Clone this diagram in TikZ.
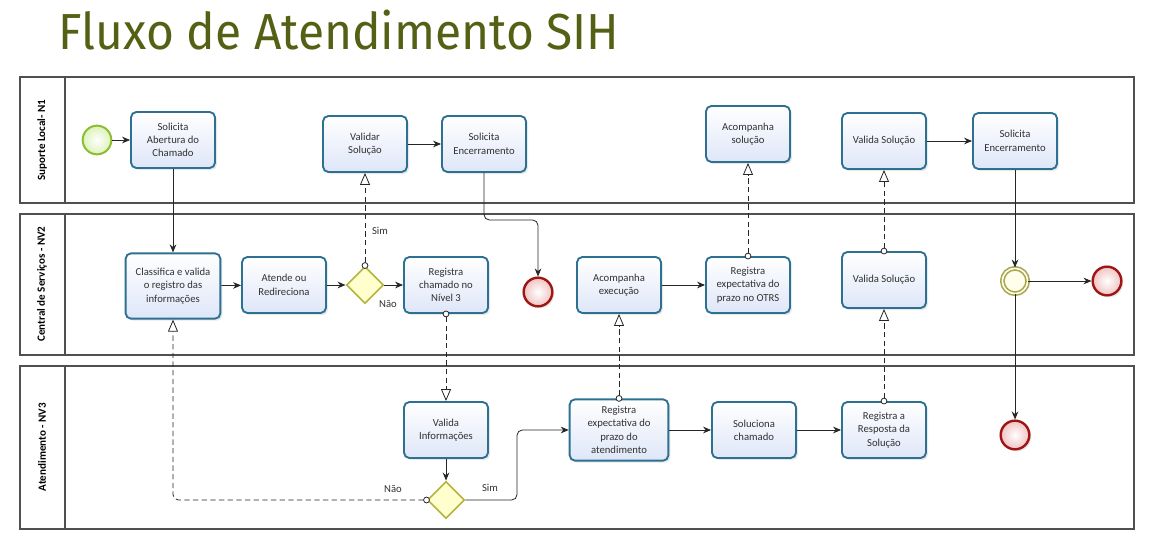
\documentclass[tikz,border=0pt]{standalone}
\usepackage{fontspec}
\setmainfont{Carlito}
\newfontfamily\titlefont{Fira Sans}
\usetikzlibrary{arrows.meta,shapes.geometric,shadows}
\definecolor{taskborder}{RGB}{45,112,145}
\definecolor{taskfill}{RGB}{222,230,248}
\definecolor{startborder}{RGB}{140,190,50}
\definecolor{startfill}{RGB}{220,242,185}
\definecolor{endborder}{RGB}{160,20,20}
\definecolor{endfill}{RGB}{240,195,195}
\definecolor{gwborder}{RGB}{180,180,60}
\definecolor{gwfill}{RGB}{255,255,205}
\definecolor{ieborder}{RGB}{170,165,80}
\definecolor{iefill}{RGB}{255,255,235}
\definecolor{titlecol}{RGB}{84,96,20}
\definecolor{lanecol}{RGB}{80,80,80}
\definecolor{txt}{RGB}{50,50,50}
\begin{document}
\begin{tikzpicture}[x=0.75pt,y=-0.75pt,
  lane/.style={draw=lanecol, line width=0.9pt},
  lanehead/.style={rotate=90, font=\bfseries\fontsize{8.3}{10}\selectfont, text=black},
  task/.style={rectangle, rounded corners=4pt, draw=taskborder, line width=1.4pt,
    top color=white, bottom color=taskfill, minimum width=63pt, minimum height=42pt,
    align=center, font=\fontsize{8}{10}\selectfont, text=txt, inner sep=1pt,
    drop shadow={opacity=0.18, shadow xshift=1.5pt, shadow yshift=-1.5pt}},
  startev/.style={circle, draw=startborder, line width=1.5pt, inner color=white, outer color=startfill,
    minimum size=21.5pt, inner sep=0pt},
  endev/.style={circle, draw=endborder, line width=1.8pt, inner color=white, outer color=endfill,
    minimum size=21.5pt, inner sep=0pt, drop shadow={opacity=0.18, shadow xshift=1.5pt, shadow yshift=-1.5pt}},
  interev/.style={circle, draw=ieborder, line width=1.2pt, double=iefill, double distance=1.2pt, fill=iefill,
    minimum size=19pt, inner sep=0pt},
  gateway/.style={diamond, aspect=1, draw=gwborder, line width=1.2pt, fill=gwfill,
    minimum width=28pt, minimum height=28pt, inner sep=0pt},
  seq/.style={draw=black!85, line width=0.6pt, -{Stealth[length=6pt,width=5pt]}},
  msg/.style={draw=black!85, line width=0.6pt, dash pattern=on 4pt off 2.5pt,
    {Circle[open,fill=white,length=5pt,width=5pt]}-{Triangle[open,fill=white,length=9pt,width=7.5pt]},
    shorten <=-2.5pt},
  lbl/.style={font=\fontsize{8}{10}\selectfont, text=txt, inner sep=1pt}]
\useasboundingbox (0,0) rectangle (1155,556);

% title
\node[anchor=base west, inner sep=0pt, text=titlecol, font=\titlefont\fontsize{38}{40}\selectfont] (title) at (58,50) {\scalebox{0.945}[1]{Fluxo de Atendimento SIH}};

% lanes
\draw[lane] (20,77) rectangle (1134,203);
\draw[lane] (65,77) -- (65,203);
\draw[lane] (20,214) rectangle (1134,355);
\draw[lane] (65,214) -- (65,355);
\draw[lane] (20,366) rectangle (1134,529);
\draw[lane] (65,366) -- (65,529);
\node[lanehead] (h1) at (42,140) {Suporte Local- N1};
\node[lanehead] (h2) at (42,284) {Central de Serviços - NV2};
\node[lanehead] (h3) at (42,447) {Atendimento - NV3};

% lane 1
\node[startev] (start) at (97,140) {};
\node[task] (t1) at (173,140) {Solicita\\Abertura do\\Chamado};
\node[task] (t2) at (365,144) {Validar\\Solução};
\node[task] (t3) at (484,144) {Solicita\\Encerramento};
\node[task] (t4) at (748,134) {Acompanha\\solução};
\node[task] (t5) at (884,141) {Valida Solução};
\node[task] (t6) at (1015,141) {Solicita\\Encerramento};

% lane 2
\node[task, minimum width=71pt, minimum height=49pt] (c1) at (173,286) {Classifica e valida\\o registro das\\informações};
\node[task] (c2) at (284,285) {Atende ou\\Redireciona};
\node[gateway] (g1) at (365,285) {};
\node[task] (c3) at (446,285) {Registra\\chamado no\\Nível 3};
\node[endev] (e1) at (538,292) {};
\node[task] (c4) at (619,285) {Acompanha\\execução};
\node[task] (c5) at (748,285) {Registra\\expectativa do\\prazo no OTRS};
\node[task] (c6) at (884,280) {Valida Solução};
\node[interev] (ie) at (1015,281) {};
\node[endev] (e2) at (1107,281) {};

% lane 3
\node[task] (a1) at (446,430) {Valida\\Informações};
\node[gateway] (g2) at (446,500) {};
\node[task, minimum width=74pt, minimum height=46pt] (a2) at (619,430) {Registra\\expectativa do\\prazo do\\atendimento};
\node[task] (a3) at (754,430) {Soluciona\\chamado};
\node[task] (a4) at (884,430) {Registra a\\Resposta da\\Solução};
\node[endev] (e3) at (1015,435) {};

\coordinate (k1) at (538,220);
\coordinate (k2) at (517,500);

% sequence flows
\draw[seq] (start) -- (t1);
\draw[seq] (t1) -- (c1);
\draw[seq] (c1) -- (c2);
\draw[seq] (c2) -- (g1);
\draw[seq] (g1) -- (c3);
\draw[seq] (t2) -- (t3);
\draw[seq, rounded corners=4pt] (t3.south) |- (k1) -- (e1.north);
\draw[seq] (a1) -- (g2);
\draw[seq, rounded corners=4pt] (g2.east) -- (k2) |- (a2.west);
\draw[seq] (c4) -- (c5);
\draw[seq] (a2) -- (a3);
\draw[seq] (a3) -- (a4);
\draw[seq] (t5) -- (t6);
\draw[seq] (t6) -- (ie);
\draw[seq] (ie) -- (e2);
\draw[seq] (ie) -- (e3);

% message flows
\draw[msg] (g1.north) -- (t2.south);
\draw[msg] (c3.south) -- (a1.north);
\draw[msg, rounded corners=4pt] (g2.west) -| (c1.south);
\draw[msg] (a2.north) -- (c4.south);
\draw[msg] (c5.north) -- (t4.south);
\draw[msg] (a4.north) -- (c6.south);
\draw[msg] (c6.north) -- (t5.south);

% labels
\node[lbl] (ls1) at (380,231) {Sim};
\node[lbl] (ln1) at (388,304) {Não};
\node[lbl] (ln2) at (393,489) {Não};
\node[lbl] (ls2) at (490,488) {Sim};
\end{tikzpicture}
\end{document}
